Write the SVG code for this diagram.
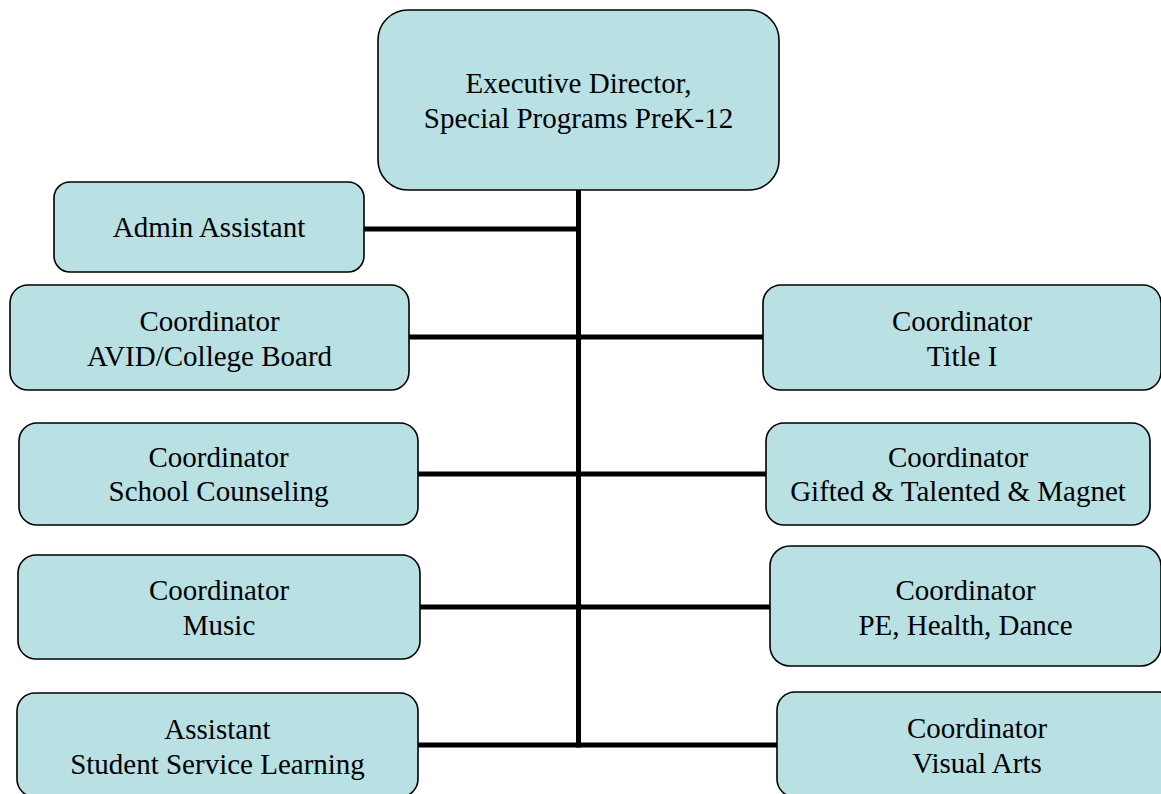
<svg xmlns="http://www.w3.org/2000/svg" width="1161" height="794" viewBox="0 0 1161 794">
<style>
.box{fill:#B9E0E3;stroke:#000;stroke-width:1.6}
.t{font-family:"Liberation Serif","Times New Roman",serif;font-size:29px;fill:#000;text-anchor:middle}
.c{stroke:#000;stroke-width:5;fill:none}
</style>
<rect width="1161" height="794" fill="#fff"/>
<g id="connectors">
<line class="c" x1="578.5" y1="190" x2="578.5" y2="747.5"/>
<line class="c" x1="364" y1="229" x2="578.5" y2="229"/>
<line class="c" x1="409" y1="337" x2="763" y2="337"/>
<line class="c" x1="418" y1="474" x2="766" y2="474"/>
<line class="c" x1="420" y1="607" x2="770" y2="607"/>
<line class="c" x1="418" y1="745" x2="777" y2="745"/>
</g>
<g id="exec">
<rect class="box" x="378" y="10" width="401" height="180" rx="30"/>
<text class="t" x="578.5" y="93">Executive Director,</text>
<text class="t" x="578.5" y="128">Special Programs PreK-12</text>
</g>
<g id="admin">
<rect class="box" x="54" y="182" width="310" height="90" rx="16"/>
<text class="t" x="209" y="237">Admin Assistant</text>
</g>
<g id="avid">
<rect class="box" x="10" y="285" width="399" height="105" rx="18"/>
<text class="t" x="209.5" y="331">Coordinator</text>
<text class="t" x="209.5" y="366">AVID/College Board</text>
</g>
<g id="title1">
<rect class="box" x="763" y="285" width="398" height="105" rx="18"/>
<text class="t" x="962" y="331">Coordinator</text>
<text class="t" x="962" y="366">Title I</text>
</g>
<g id="counseling">
<rect class="box" x="19" y="423" width="399" height="102" rx="18"/>
<text class="t" x="218.5" y="467">Coordinator</text>
<text class="t" x="218.5" y="501">School Counseling</text>
</g>
<g id="gifted">
<rect class="box" x="766" y="423" width="384" height="102" rx="18"/>
<text class="t" x="958" y="467">Coordinator</text>
<text class="t" x="958" y="501">Gifted &amp; Talented &amp; Magnet</text>
</g>
<g id="music">
<rect class="box" x="18" y="555" width="402" height="104" rx="18"/>
<text class="t" x="219" y="600">Coordinator</text>
<text class="t" x="219" y="635">Music</text>
</g>
<g id="pe">
<rect class="box" x="770" y="546" width="391" height="120" rx="20"/>
<text class="t" x="965.5" y="600">Coordinator</text>
<text class="t" x="965.5" y="635">PE, Health, Dance</text>
</g>
<g id="ssl">
<rect class="box" x="17" y="693" width="401" height="104" rx="18"/>
<text class="t" x="217.5" y="739">Assistant</text>
<text class="t" x="217.5" y="774">Student Service Learning</text>
</g>
<g id="visual">
<rect class="box" x="777" y="692" width="400" height="105" rx="18"/>
<text class="t" x="977" y="738">Coordinator</text>
<text class="t" x="977" y="773">Visual Arts</text>
</g>
</svg>
